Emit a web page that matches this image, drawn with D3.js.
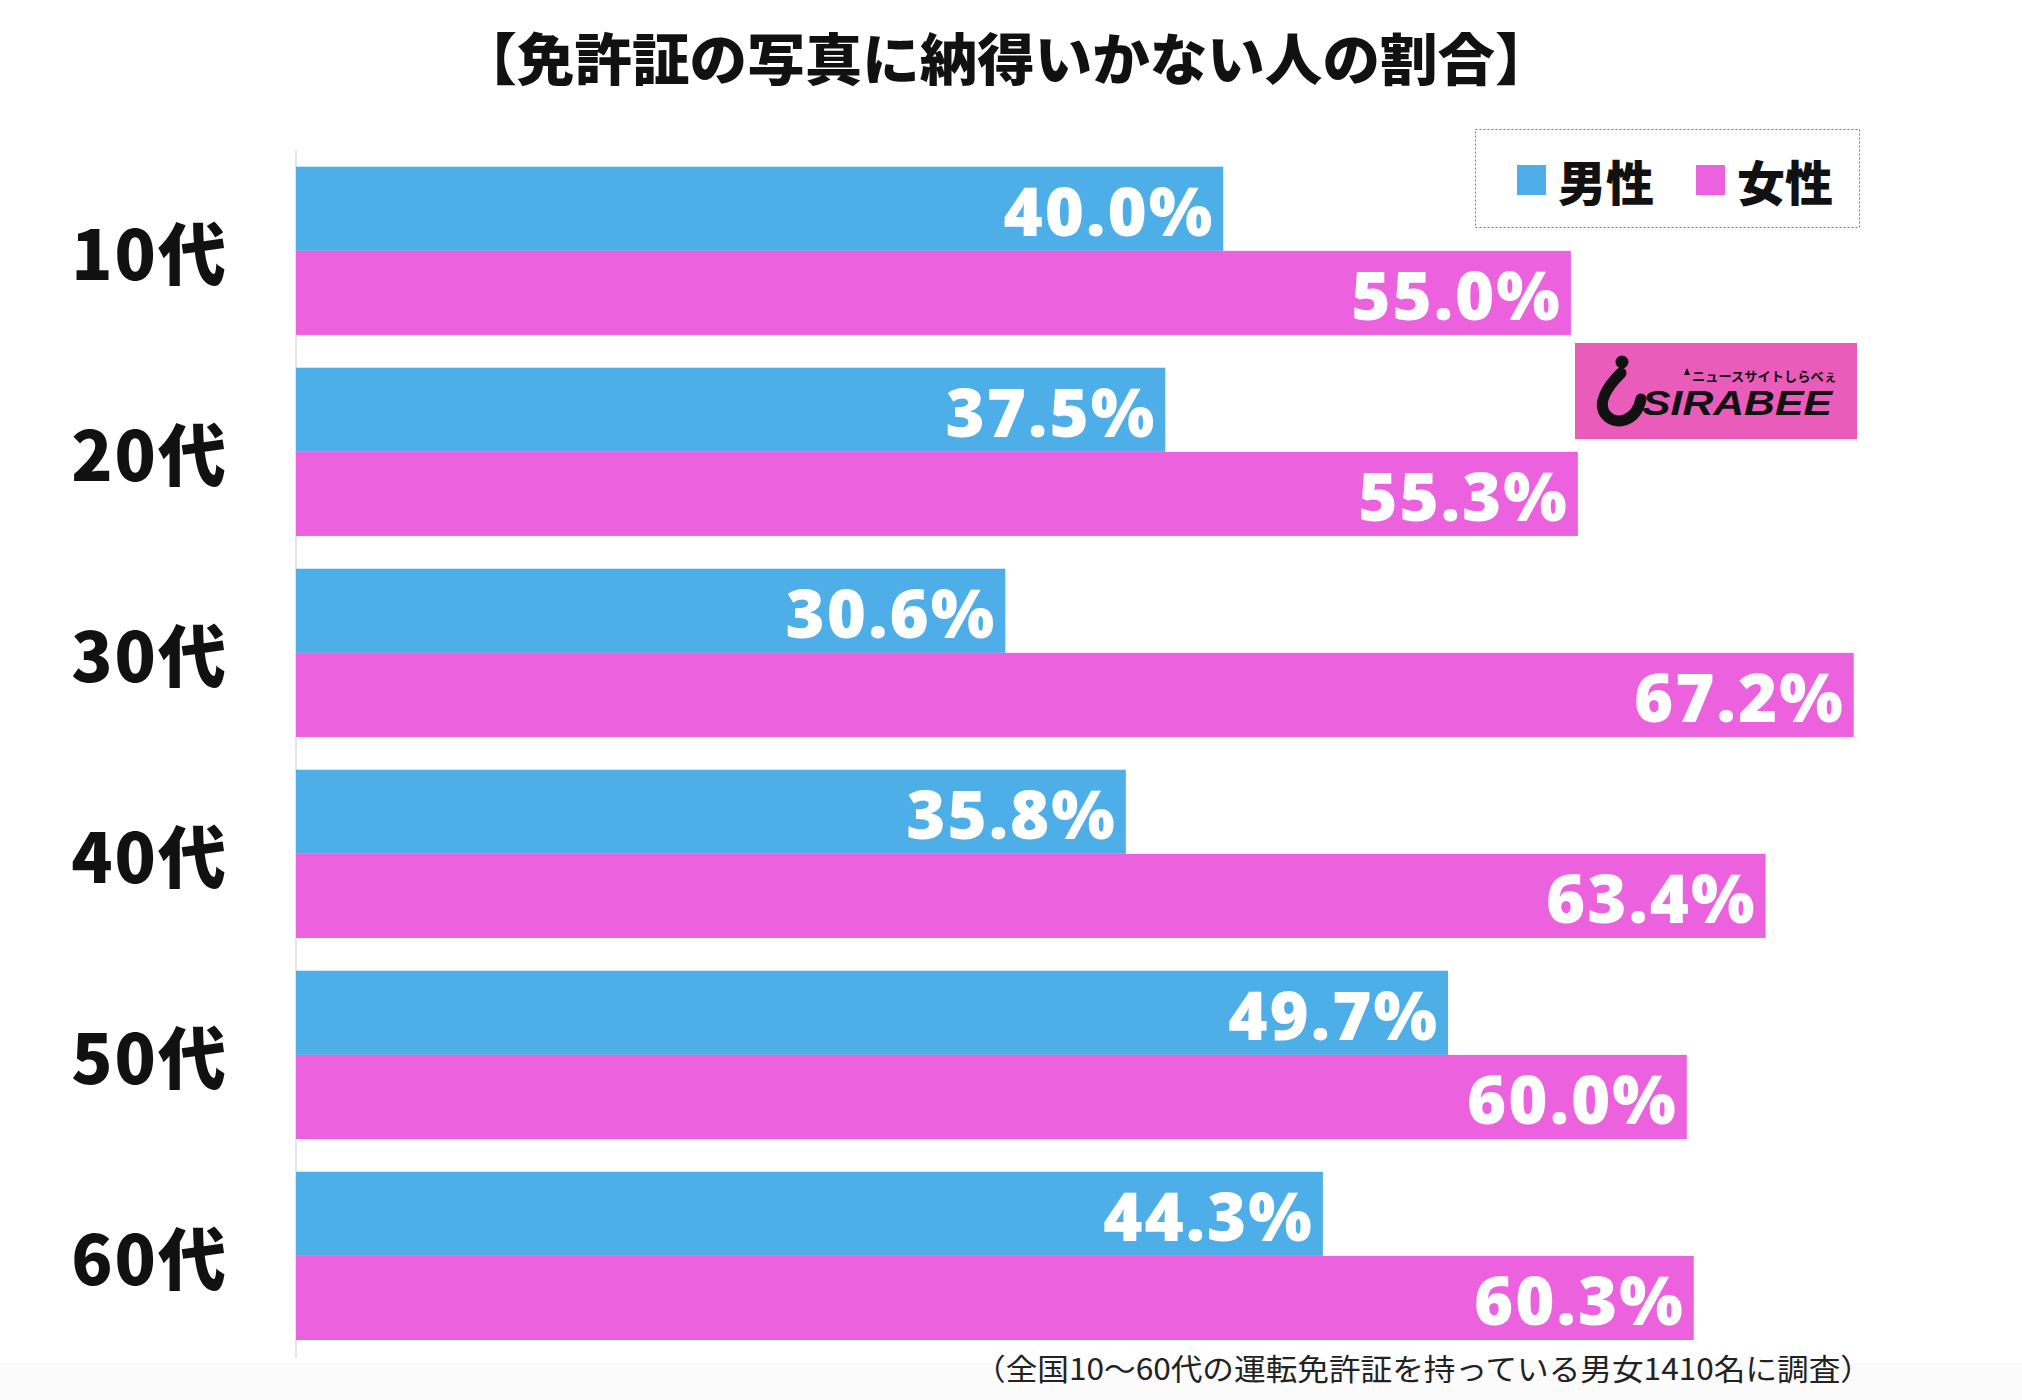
<!DOCTYPE html>
<html><head><meta charset="utf-8">
<script src="https://cdn.jsdelivr.net/npm/d3@7"></script>
<style>html,body{margin:0;padding:0;background:#fff;}</style>
</head><body>
<script>
const title = "【免許証の写真に納得いかない人の割合】";
const categories = ["10代","20代","30代","40代","50代","60代"];
const seriesNames = ["男性","女性"];
const maleValues = [40.0, 37.5, 30.6, 35.8, 49.7, 44.3];
const femaleValues = [55.0, 55.3, 67.2, 63.4, 60.0, 60.3];
const footnote = "（全国10〜60代の運転免許証を持っている男女1410名に調査）";

const colors = {"男性":"#4eaee8","女性":"#ec62de"};
const W = 2022, H = 1400;
const jp = "'Noto Sans CJK JP','Noto Sans CJK SC',sans-serif";

const svg = d3.select("body").append("svg").attr("width", W).attr("height", H)
  .style("display","block");
svg.append("rect").attr("width", W).attr("height", H).attr("fill", "#fff");
svg.append("rect").attr("x",0).attr("y",1363).attr("width",W).attr("height",H-1363).attr("fill","#fbfbfb");

// title
svg.append("text").attr("x", 1006).attr("y", 55)
  .attr("text-anchor","middle").attr("dominant-baseline","central")
  .attr("textLength", 1093).attr("lengthAdjust","spacingAndGlyphs")
  .style("font-family", jp).style("font-weight", 900).style("font-size","56px")
  .attr("fill","#111").text(title);

const data = categories.map((c,i)=>({cat:c, vals:[
  {s:seriesNames[0], v:maleValues[i]}, {s:seriesNames[1], v:femaleValues[i]}]}));

const x = d3.scaleLinear().domain([0,70]).range([296, 296 + 70*23.18]);
const y = d3.scaleBand().domain(categories).range([166.7, 1340]).paddingInner(0.163).paddingOuter(0);
const ys = d3.scaleBand().domain(seriesNames).range([0, y.bandwidth()]);

// axis line
svg.append("line").attr("x1", x(0)).attr("x2", x(0)).attr("y1", 150).attr("y2", 1358)
  .attr("stroke","#dddddd").attr("stroke-width",1.5);

const g = svg.selectAll("g.cat").data(data).enter().append("g")
  .attr("class","cat").attr("transform", d=>`translate(0,${y(d.cat)})`);

g.selectAll("rect").data(d=>d.vals).enter().append("rect")
  .attr("x", x(0)).attr("y", d=>ys(d.s))
  .attr("width", d=>x(d.v)-x(0)).attr("height", ys.bandwidth())
  .attr("fill", d=>colors[d.s]);

g.selectAll("text.val").data(d=>d.vals).enter().append("text")
  .attr("class","val")
  .attr("x", d=>x(d.v)-9).attr("y", d=>ys(d.s)+ys.bandwidth()/2+1)
  .attr("text-anchor","end").attr("dominant-baseline","central")
  .style("font-family","'Open Sans',sans-serif").style("font-weight",800)
  .style("font-size","67px").style("letter-spacing","2px")
  .attr("fill","#fff").text(d=>d.v.toFixed(1)+"%");

// category labels
g.append("text").attr("x", 228).attr("y", y.bandwidth()/2)
  .attr("text-anchor","end").attr("dominant-baseline","central")
  .style("font-family", jp).style("font-weight",900).style("font-size","68px")
  .style("letter-spacing","2px")
  .attr("fill","#111").text(d=>d.cat);

// legend
const lg = svg.append("g");
lg.append("rect").attr("x",1475.5).attr("y",129.5).attr("width",384).attr("height",98)
  .attr("fill","#fff").attr("stroke","#777").attr("stroke-width",1).attr("stroke-dasharray","2,2");
const legendX = [1517, 1696];
seriesNames.forEach((s,i)=>{
  lg.append("rect").attr("x",legendX[i]).attr("y",165).attr("width",29).attr("height",30).attr("fill",colors[s]);
  lg.append("text").attr("x",legendX[i]+41).attr("y",180).attr("dominant-baseline","central")
    .style("font-family", jp).style("font-weight",900).style("font-size","48px")
    .attr("fill","#111").text(s);
});

// logo
const lo = svg.append("g");
lo.append("rect").attr("x",1575).attr("y",343).attr("width",282).attr("height",96).attr("fill","#e95cba");
lo.append("circle").attr("cx",1622).attr("cy",362).attr("r",6.5).attr("fill","#111");
lo.append("path").attr("d","M1621,373 C1606,388 1597,404 1606,415 C1616,426 1636,422 1641,399")
  .attr("fill","none").attr("stroke","#111").attr("stroke-width",11).attr("stroke-linecap","round");
lo.append("text").attr("x",1642).attr("y",415).attr("textLength",190).attr("lengthAdjust","spacingAndGlyphs")
  .style("font-family","'Liberation Sans',sans-serif").style("font-weight",700).style("font-style","italic")
  .style("font-size","35px").attr("fill","#111").text("SIRABEE");
lo.append("path").attr("d","M1687,368 L1690,375 L1684,375 Z").attr("fill","#111");
lo.append("text").attr("x",1692).attr("y",381).attr("textLength",145).attr("lengthAdjust","spacingAndGlyphs")
  .style("font-family", jp).style("font-weight",700).style("font-size","13px")
  .attr("fill","#111").text("ニュースサイトしらべぇ");

// footnote
svg.append("text").attr("x",974).attr("y",1367).attr("dominant-baseline","central")
  .attr("textLength", 898).attr("lengthAdjust","spacingAndGlyphs")
  .style("font-family", jp).style("font-weight",400).style("font-size","30px")
  .attr("fill","#222").text(footnote);
</script>
</body></html>
